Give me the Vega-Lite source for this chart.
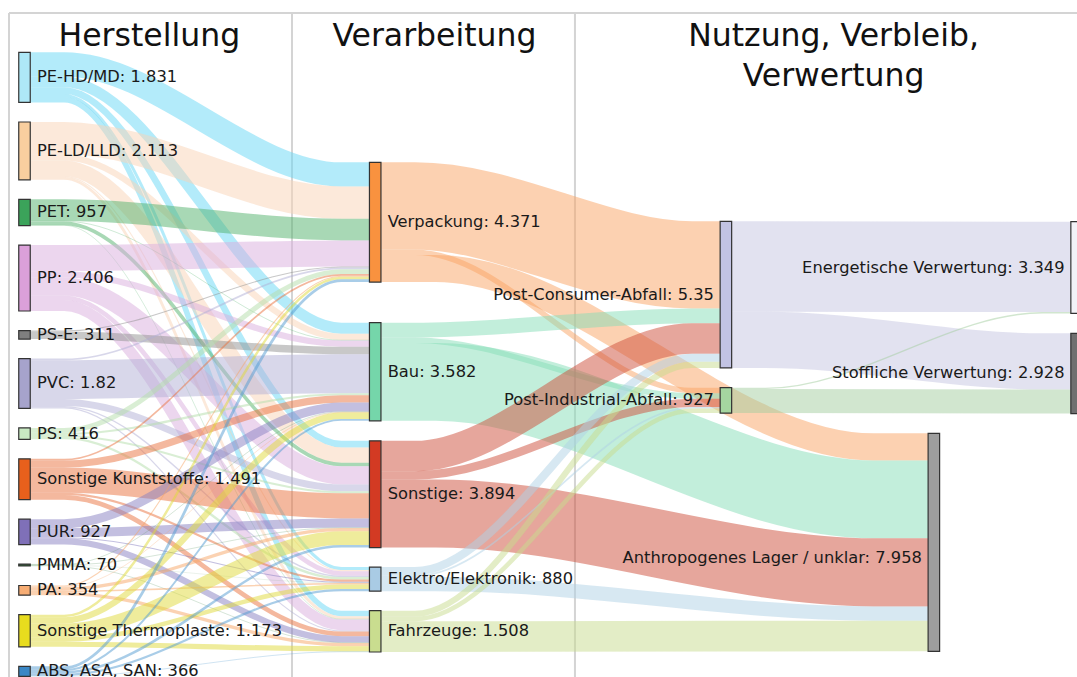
{
  "$schema": "https://vega.github.io/schema/vega-lite/v6.json",
  "width": 1077,
  "height": 677,
  "autosize": {"type": "none"},
  "padding": 0,
  "background": "white",
  "config": {"view": {"stroke": null}},
  "datasets": {
    "nodes": [
      {"n": "PE-HD/MD", "lab": "PE-HD/MD: 1.831", "x": 0, "y0": 0, "y1": 1831, "ym": 915.5, "side": "r"},
      {"n": "PE-LD/LLD", "lab": "PE-LD/LLD: 2.113", "x": 0, "y0": 2543, "y1": 4656, "ym": 3599.5, "side": "r"},
      {"n": "PET", "lab": "PET: 957", "x": 0, "y0": 5368, "y1": 6325, "ym": 5846.5, "side": "r"},
      {"n": "PP", "lab": "PP: 2.406", "x": 0, "y0": 7037, "y1": 9443, "ym": 8240, "side": "r"},
      {"n": "PS-E", "lab": "PS-E: 311", "x": 0, "y0": 10155, "y1": 10466, "ym": 10310.5, "side": "r"},
      {"n": "PVC", "lab": "PVC: 1.82", "x": 0, "y0": 11178, "y1": 12998, "ym": 12088, "side": "r"},
      {"n": "PS", "lab": "PS: 416", "x": 0, "y0": 13710, "y1": 14126, "ym": 13918, "side": "r"},
      {"n": "Sonstige Kunststoffe", "lab": "Sonstige Kunststoffe: 1.491", "x": 0, "y0": 14838, "y1": 16329, "ym": 15583.5, "side": "r"},
      {"n": "PUR", "lab": "PUR: 927", "x": 0, "y0": 17041, "y1": 17968, "ym": 17504.5, "side": "r"},
      {"n": "PMMA", "lab": "PMMA: 70", "x": 0, "y0": 18680, "y1": 18750, "ym": 18715, "side": "r"},
      {"n": "PA", "lab": "PA: 354", "x": 0, "y0": 19462, "y1": 19816, "ym": 19639, "side": "r"},
      {"n": "Sonstige Thermoplaste", "lab": "Sonstige Thermoplaste: 1.173", "x": 0, "y0": 20528, "y1": 21701, "ym": 21114.5, "side": "r"},
      {"n": "ABS, ASA, SAN", "lab": "ABS, ASA, SAN: 366", "x": 0, "y0": 22413, "y1": 22779, "ym": 22596, "side": "r"},
      {"n": "Verpackung", "lab": "Verpackung: 4.371", "x": 1, "y0": 4015, "y1": 8386, "ym": 6200.5, "side": "r"},
      {"n": "Bau", "lab": "Bau: 3.582", "x": 1, "y0": 9870, "y1": 13452, "ym": 11661, "side": "r"},
      {"n": "Sonstige", "lab": "Sonstige: 3.894", "x": 1, "y0": 14182, "y1": 18076, "ym": 16129, "side": "r"},
      {"n": "Elektro/Elektronik", "lab": "Elektro/Elektronik: 880", "x": 1, "y0": 18788, "y1": 19668, "ym": 19228, "side": "r"},
      {"n": "Fahrzeuge", "lab": "Fahrzeuge: 1.508", "x": 1, "y0": 20380, "y1": 21888, "ym": 21134, "side": "r"},
      {"n": "Post-Consumer-Abfall", "lab": "Post-Consumer-Abfall: 5.35", "x": 2, "y0": 6169, "y1": 11519, "ym": 8844, "side": "l"},
      {"n": "Post-Industrial-Abfall", "lab": "Post-Industrial-Abfall: 927", "x": 2, "y0": 12242, "y1": 13169, "ym": 12705.5, "side": "l"},
      {"n": "Anthropogenes Lager / unklar", "lab": "Anthropogenes Lager / unklar: 7.958", "x": 2.593, "y0": 13907, "y1": 21865, "ym": 18440, "side": "l"},
      {"n": "Energetische Verwertung", "lab": "Energetische Verwertung: 3.349", "x": 3, "y0": 6183, "y1": 9532, "ym": 7857.5, "side": "l"},
      {"n": "Stoffliche Verwertung", "lab": "Stoffliche Verwertung: 2.928", "x": 3, "y0": 10257, "y1": 13185, "ym": 11721, "side": "l"}
    ],
    "links": [
      {"s": "PE-HD/MD", "t": "Verpackung", "v": 880, "k": "a", "ys": [440, 440, 4455, 4455]},
      {"s": "PE-HD/MD", "t": "Bau", "v": 400, "k": "a", "ys": [1080, 1080, 10070, 10070]},
      {"s": "PE-HD/MD", "t": "Sonstige", "v": 240, "k": "a", "ys": [1400, 1400, 14302, 14302]},
      {"s": "PE-HD/MD", "t": "Elektro/Elektronik", "v": 111, "k": "a", "ys": [1575.5, 1575.5, 18843.5, 18843.5]},
      {"s": "PE-HD/MD", "t": "Fahrzeuge", "v": 200, "k": "a", "ys": [1731, 1731, 20480, 20480]},
      {"s": "PE-LD/LLD", "t": "Verpackung", "v": 1180, "k": "a", "ys": [3133, 3133, 5485, 5485]},
      {"s": "PE-LD/LLD", "t": "Bau", "v": 230, "k": "a", "ys": [3838, 3838, 10385, 10385]},
      {"s": "PE-LD/LLD", "t": "Sonstige", "v": 560, "k": "a", "ys": [4233, 4233, 14702, 14702]},
      {"s": "PE-LD/LLD", "t": "Elektro/Elektronik", "v": 40, "k": "a", "ys": [4533, 4533, 18919, 18919]},
      {"s": "PE-LD/LLD", "t": "Fahrzeuge", "v": 103, "k": "a", "ys": [4604.5, 4604.5, 20631.5, 20631.5]},
      {"s": "PET", "t": "Verpackung", "v": 790, "k": "a", "ys": [5763, 5763, 6470, 6470]},
      {"s": "PET", "t": "Bau", "v": 20, "k": "a", "ys": [6168, 6168, 10510, 10510]},
      {"s": "PET", "t": "Sonstige", "v": 130, "k": "a", "ys": [6243, 6243, 15047, 15047]},
      {"s": "PET", "t": "Fahrzeuge", "v": 17, "k": "a", "ys": [6316.5, 6316.5, 20691.5, 20691.5]},
      {"s": "PP", "t": "Verpackung", "v": 950, "k": "a", "ys": [7512, 7512, 7340, 7340]},
      {"s": "PP", "t": "Bau", "v": 230, "k": "a", "ys": [8102, 8102, 10635, 10635]},
      {"s": "PP", "t": "Sonstige", "v": 660, "k": "a", "ys": [8547, 8547, 15442, 15442]},
      {"s": "PP", "t": "Elektro/Elektronik", "v": 166, "k": "a", "ys": [8960, 8960, 19022, 19022]},
      {"s": "PP", "t": "Fahrzeuge", "v": 400, "k": "a", "ys": [9243, 9243, 20900, 20900]},
      {"s": "PS-E", "t": "Verpackung", "v": 40, "k": "a", "ys": [10175, 10175, 7835, 7835]},
      {"s": "PS-E", "t": "Bau", "v": 271, "k": "a", "ys": [10330.5, 10330.5, 10885.5, 10885.5]},
      {"s": "PVC", "t": "Verpackung", "v": 60, "k": "a", "ys": [11208, 11208, 7885, 7885]},
      {"s": "PVC", "t": "Bau", "v": 1420, "k": "a", "ys": [11948, 11948, 11731, 11731]},
      {"s": "PVC", "t": "Sonstige", "v": 250, "k": "a", "ys": [12783, 12783, 15897, 15897]},
      {"s": "PVC", "t": "Elektro/Elektronik", "v": 50, "k": "a", "ys": [12933, 12933, 19130, 19130]},
      {"s": "PVC", "t": "Fahrzeuge", "v": 40, "k": "a", "ys": [12978, 12978, 21120, 21120]},
      {"s": "PS", "t": "Verpackung", "v": 180, "k": "a", "ys": [13800, 13800, 8005, 8005]},
      {"s": "PS", "t": "Bau", "v": 80, "k": "a", "ys": [13930, 13930, 12481, 12481]},
      {"s": "PS", "t": "Sonstige", "v": 70, "k": "a", "ys": [14005, 14005, 16057, 16057]},
      {"s": "PS", "t": "Elektro/Elektronik", "v": 86, "k": "a", "ys": [14083, 14083, 19198, 19198]},
      {"s": "Sonstige Kunststoffe", "t": "Verpackung", "v": 60, "k": "a", "ys": [14868, 14868, 8125, 8125]},
      {"s": "Sonstige Kunststoffe", "t": "Bau", "v": 260, "k": "a", "ys": [15028, 15028, 12651, 12651]},
      {"s": "Sonstige Kunststoffe", "t": "Sonstige", "v": 920, "k": "a", "ys": [15618, 15618, 16552, 16552]},
      {"s": "Sonstige Kunststoffe", "t": "Elektro/Elektronik", "v": 80, "k": "a", "ys": [16118, 16118, 19281, 19281]},
      {"s": "Sonstige Kunststoffe", "t": "Fahrzeuge", "v": 171, "k": "a", "ys": [16243.5, 16243.5, 21225.5, 21225.5]},
      {"s": "PUR", "t": "Bau", "v": 330, "k": "a", "ys": [17206, 17206, 12946, 12946]},
      {"s": "PUR", "t": "Sonstige", "v": 330, "k": "a", "ys": [17536, 17536, 17177, 17177]},
      {"s": "PUR", "t": "Elektro/Elektronik", "v": 40, "k": "a", "ys": [17721, 17721, 19341, 19341]},
      {"s": "PUR", "t": "Fahrzeuge", "v": 227, "k": "a", "ys": [17854.5, 17854.5, 21424.5, 21424.5]},
      {"s": "PMMA", "t": "Bau", "v": 20, "k": "a", "ys": [18690, 18690, 13121, 13121]},
      {"s": "PMMA", "t": "Sonstige", "v": 20, "k": "a", "ys": [18710, 18710, 17352, 17352]},
      {"s": "PMMA", "t": "Elektro/Elektronik", "v": 10, "k": "a", "ys": [18725, 18725, 19366, 19366]},
      {"s": "PMMA", "t": "Fahrzeuge", "v": 20, "k": "a", "ys": [18740, 18740, 21548, 21548]},
      {"s": "PA", "t": "Verpackung", "v": 40, "k": "a", "ys": [19482, 19482, 8175, 8175]},
      {"s": "PA", "t": "Bau", "v": 20, "k": "a", "ys": [19512, 19512, 13141, 13141]},
      {"s": "PA", "t": "Sonstige", "v": 120, "k": "a", "ys": [19582, 19582, 17422, 17422]},
      {"s": "PA", "t": "Elektro/Elektronik", "v": 54, "k": "a", "ys": [19669, 19669, 19398, 19398]},
      {"s": "PA", "t": "Fahrzeuge", "v": 120, "k": "a", "ys": [19756, 19756, 21618, 21618]},
      {"s": "Sonstige Thermoplaste", "t": "Verpackung", "v": 90, "k": "a", "ys": [20573, 20573, 8240, 8240]},
      {"s": "Sonstige Thermoplaste", "t": "Bau", "v": 230, "k": "a", "ys": [20733, 20733, 13266, 13266]},
      {"s": "Sonstige Thermoplaste", "t": "Sonstige", "v": 500, "k": "a", "ys": [21098, 21098, 17732, 17732]},
      {"s": "Sonstige Thermoplaste", "t": "Elektro/Elektronik", "v": 163, "k": "a", "ys": [21429.5, 21429.5, 19506.5, 19506.5]},
      {"s": "Sonstige Thermoplaste", "t": "Fahrzeuge", "v": 190, "k": "a", "ys": [21606, 21606, 21773, 21773]},
      {"s": "ABS, ASA, SAN", "t": "Verpackung", "v": 101, "k": "a", "ys": [22463.5, 22463.5, 8335.5, 8335.5]},
      {"s": "ABS, ASA, SAN", "t": "Bau", "v": 71, "k": "a", "ys": [22549.5, 22549.5, 13416.5, 13416.5]},
      {"s": "ABS, ASA, SAN", "t": "Sonstige", "v": 94, "k": "a", "ys": [22632, 22632, 18029, 18029]},
      {"s": "ABS, ASA, SAN", "t": "Elektro/Elektronik", "v": 80, "k": "a", "ys": [22719, 22719, 19628, 19628]},
      {"s": "ABS, ASA, SAN", "t": "Fahrzeuge", "v": 20, "k": "a", "ys": [22769, 22769, 21878, 21878]},
      {"s": "Verpackung", "t": "Post-Consumer-Abfall", "v": 3180, "k": "b", "ys": [5605, 5605, 7759, 7759]},
      {"s": "Verpackung", "t": "Post-Industrial-Abfall", "v": 200, "k": "b", "ys": [7295, 7295, 12342, 12342]},
      {"s": "Verpackung", "t": "Anthropogenes Lager / unklar", "v": 991, "k": "c", "ys": [7890.5, 7890.5, 14402.5, 14402.5]},
      {"s": "Bau", "t": "Post-Consumer-Abfall", "v": 540, "k": "b", "ys": [10140, 10140, 9619, 9619]},
      {"s": "Bau", "t": "Post-Industrial-Abfall", "v": 200, "k": "b", "ys": [10510, 10510, 12542, 12542]},
      {"s": "Bau", "t": "Anthropogenes Lager / unklar", "v": 2842, "k": "c", "ys": [12031, 12031, 16319, 16319]},
      {"s": "Sonstige", "t": "Post-Consumer-Abfall", "v": 1110, "k": "b", "ys": [14737, 14737, 10444, 10444]},
      {"s": "Sonstige", "t": "Post-Industrial-Abfall", "v": 300, "k": "b", "ys": [15442, 15442, 12792, 12792]},
      {"s": "Sonstige", "t": "Anthropogenes Lager / unklar", "v": 2484, "k": "c", "ys": [16834, 16834, 18982, 18982]},
      {"s": "Elektro/Elektronik", "t": "Post-Consumer-Abfall", "v": 300, "k": "b", "ys": [18938, 18938, 11149, 11149]},
      {"s": "Elektro/Elektronik", "t": "Post-Industrial-Abfall", "v": 60, "k": "b", "ys": [19118, 19118, 12972, 12972]},
      {"s": "Elektro/Elektronik", "t": "Anthropogenes Lager / unklar", "v": 520, "k": "c", "ys": [19408, 19408, 20484, 20484]},
      {"s": "Fahrzeuge", "t": "Post-Consumer-Abfall", "v": 220, "k": "b", "ys": [20490, 20490, 11409, 11409]},
      {"s": "Fahrzeuge", "t": "Post-Industrial-Abfall", "v": 167, "k": "b", "ys": [20683.5, 20683.5, 13085.5, 13085.5]},
      {"s": "Fahrzeuge", "t": "Anthropogenes Lager / unklar", "v": 1121, "k": "c", "ys": [21327.5, 21327.5, 21304.5, 21304.5]},
      {"s": "Post-Consumer-Abfall", "t": "Energetische Verwertung", "v": 3300, "k": "d", "ys": [7819, 7819, 7833, 7833]},
      {"s": "Post-Consumer-Abfall", "t": "Stoffliche Verwertung", "v": 2050, "k": "d", "ys": [10494, 10494, 11282, 11282]},
      {"s": "Post-Industrial-Abfall", "t": "Energetische Verwertung", "v": 49, "k": "d", "ys": [12266.5, 12266.5, 9507.5, 9507.5]},
      {"s": "Post-Industrial-Abfall", "t": "Stoffliche Verwertung", "v": 878, "k": "d", "ys": [12730, 12730, 12746, 12746]}
    ],
    "stages": [
      {"k": "a", "xs": [0.0164, 0.1131, 0.9033, 0.9836]},
      {"k": "b", "xs": [1.0164, 1.1131, 1.9033, 1.9836]},
      {"k": "c", "xs": [1.0164, 1.1724, 2.4206, 2.5766]},
      {"k": "d", "xs": [2.0164, 2.1131, 2.9033, 2.9836]}
    ],
    "headers": [
      {"h": ["Herstellung"], "x": 0.356, "y": -230},
      {"h": ["Verarbeitung"], "x": 1.169, "y": -230},
      {"h": ["Nutzung, Verbleib,", "Verwertung"], "x": 2.307, "y": -230}
    ],
    "frame": [
      {"x": -0.0442},
      {"x": 0.7628},
      {"x": 1.5696}
    ]
  },
  "layer": [
    {
      "data": {"name": "frame"},
      "mark": {"type": "rule", "stroke": "#d4d4d4", "strokeWidth": 2},
      "encoding": {
        "x": {"field": "x", "type": "quantitative", "scale": {"domain": [-0.06986, 3.00114], "nice": false, "zero": false, "padding": 0}, "axis": null},
        "y": {"datum": -1434, "type": "quantitative", "scale": {"domain": [-1909, 22801], "reverse": true, "nice": false, "zero": false, "padding": 0}, "axis": null},
        "y2": {"datum": 22801}
      }
    },
    {
      "data": {"values": [{"a": 1}]},
      "mark": {"type": "rule", "stroke": "#d4d4d4", "strokeWidth": 2},
      "encoding": {
        "x": {"datum": -0.0442, "type": "quantitative"},
        "x2": {"datum": 3.00114},
        "y": {"datum": -1434, "type": "quantitative"}
      }
    },
    {
      "data": {"name": "links"},
      "transform": [
        {"lookup": "k", "from": {"data": {"name": "stages"}, "key": "k", "fields": ["xs"]}},
        {"flatten": ["xs", "ys"]}
      ],
      "mark": {"type": "line", "interpolate": "monotone", "strokeCap": "butt", "opacity": 0.5},
      "encoding": {
        "x": {"field": "xs", "type": "quantitative"},
        "y": {"field": "ys", "type": "quantitative"},
        "detail": [{"field": "s"}, {"field": "t"}],
        "stroke": {
          "field": "s", "type": "nominal", "legend": null,
          "scale": {
            "domain": ["PE-HD/MD", "PE-LD/LLD", "PET", "PP", "PS-E", "PVC", "PS", "Sonstige Kunststoffe", "PUR", "PMMA", "PA", "Sonstige Thermoplaste", "ABS, ASA, SAN", "Verpackung", "Bau", "Sonstige", "Elektro/Elektronik", "Fahrzeuge", "Post-Consumer-Abfall", "Post-Industrial-Abfall"],
            "range": ["#67d7f5", "#f9d3b5", "#51b16b", "#d9addd", "#919191", "#b1afd5", "#b3dda9", "#e9713d", "#877fc1", "#6aa070", "#f7a565", "#dfd939", "#539bd1", "#f9a363", "#85ddb7", "#cd4d39", "#afd1e5", "#c7db8d", "#c5c5e1", "#a3cd9f"]
          }
        },
        "size": {"field": "v", "type": "quantitative", "legend": null, "scale": {"type": "linear", "domain": [0, 10000], "range": [0, 274], "zero": true}}
      }
    },
    {
      "data": {"name": "nodes"},
      "mark": {"type": "bar", "width": 11.5, "stroke": "#333333", "strokeWidth": 1.2},
      "encoding": {
        "x": {"field": "x", "type": "quantitative"},
        "y": {"field": "y0", "type": "quantitative"},
        "y2": {"field": "y1"},
        "fill": {
          "field": "n", "type": "nominal", "legend": null,
          "scale": {
            "domain": ["PE-HD/MD", "PE-LD/LLD", "PET", "PP", "PS-E", "PVC", "PS", "Sonstige Kunststoffe", "PUR", "PMMA", "PA", "Sonstige Thermoplaste", "ABS, ASA, SAN", "Verpackung", "Bau", "Sonstige", "Elektro/Elektronik", "Fahrzeuge", "Post-Consumer-Abfall", "Post-Industrial-Abfall", "Anthropogenes Lager / unklar", "Energetische Verwertung", "Stoffliche Verwertung"],
            "range": ["#aee8f7", "#f9cf9f", "#3ba35a", "#dba0d9", "#7f7f7f", "#a6a3cc", "#c8eac2", "#e8601c", "#7f70b8", "#2f5f35", "#f7ad74", "#e8dc1e", "#3a87c5", "#f9923f", "#75d6aa", "#d33a23", "#a9cbe4", "#c9dd8f", "#c2c3e3", "#a5d6a0", "#9e9e9e", "#f2f2f7", "#707070"]
          }
        }
      }
    },
    {
      "data": {"name": "nodes"},
      "transform": [{"filter": "datum.side == 'r'"}],
      "mark": {"type": "text", "align": "left", "baseline": "middle", "dx": 12.5, "font": "DejaVu Sans", "fontSize": 16.3, "fill": "#1a1a1a"},
      "encoding": {
        "x": {"field": "x", "type": "quantitative"},
        "y": {"field": "ym", "type": "quantitative"},
        "text": {"field": "lab"}
      }
    },
    {
      "data": {"name": "nodes"},
      "transform": [{"filter": "datum.side == 'l'"}],
      "mark": {"type": "text", "align": "right", "baseline": "middle", "dx": -12, "font": "DejaVu Sans", "fontSize": 16.3, "fill": "#1a1a1a"},
      "encoding": {
        "x": {"field": "x", "type": "quantitative"},
        "y": {"field": "ym", "type": "quantitative"},
        "text": {"field": "lab"}
      }
    },
    {
      "data": {"name": "headers"},
      "mark": {"type": "text", "align": "center", "baseline": "alphabetic", "font": "DejaVu Sans", "fontSize": 31.5, "lineHeight": 40, "fill": "#111111"},
      "encoding": {
        "x": {"field": "x", "type": "quantitative"},
        "y": {"field": "y", "type": "quantitative"},
        "text": {"field": "h"}
      }
    }
  ]
}
